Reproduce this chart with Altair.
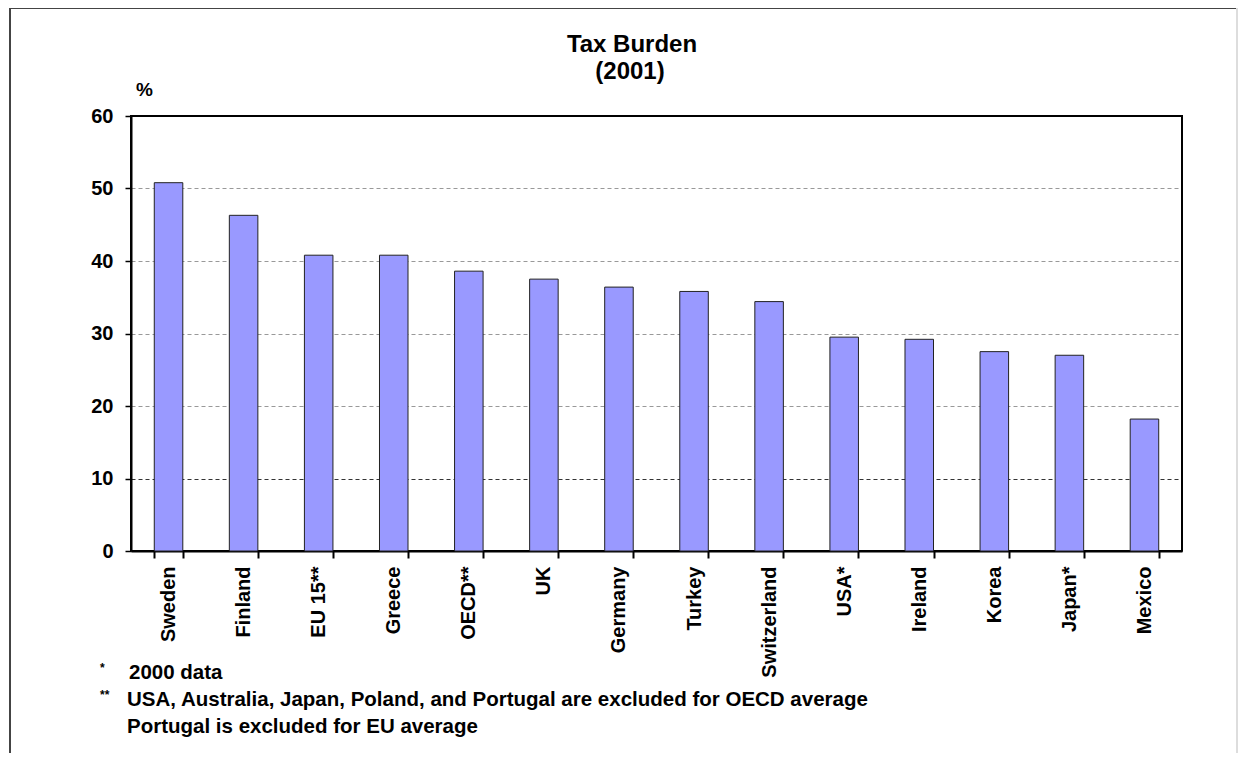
import altair as alt
import pandas as pd

countries = ["Sweden", "Finland", "EU 15**", "Greece", "OECD**", "UK", "Germany",
             "Turkey", "Switzerland", "USA*", "Ireland", "Korea", "Japan*", "Mexico"]
values = [50.8, 46.3, 40.8, 40.8, 38.6, 37.5, 36.4, 35.8, 34.4, 29.5, 29.2, 27.5, 27.0, 18.2]

title_lines = ["Tax Burden", "(2001)"]
y_unit = "%"
note_marks = ["*", "**"]
note_lines = ["2000 data",
              "USA,  Australia, Japan, Poland, and Portugal are excluded for OECD average",
              "Portugal is excluded for EU average"]

df = pd.DataFrame({"country": countries, "value": values})
FONT = "Liberation Sans"
W, H = 1051, 435

bars = alt.Chart(df).mark_bar(color="#9999FF", stroke="#222222", strokeWidth=1).encode(
    x=alt.X("country:N", sort=countries, title=None,
            scale=alt.Scale(paddingInner=0.62, paddingOuter=0.31),
            axis=alt.Axis(labelAngle=-90, labelAlign="right", labelBaseline="middle",
                          labelFont=FONT, labelFontSize=20, labelFontWeight="bold",
                          labelColor="black", labelPadding=8, tickBand="extent",
                          tickSize=7, tickWidth=2, tickColor="black",
                          domainColor="black", domainWidth=2, grid=False)),
    y=alt.Y("value:Q", title=y_unit,
            scale=alt.Scale(domain=[0, 60]),
            axis=alt.Axis(values=[0, 10, 20, 30, 40, 50, 60], labelFont=FONT,
                          labelFontSize=20, labelFontWeight="bold", labelColor="black",
                          labelPadding=12, tickSize=6, tickColor="black", tickWidth=1.5,
                          domainColor="black", domainWidth=2,
                          gridColor={"condition": {"test": "datum.value === 10", "value": "#333333"},
                                     "value": "#999999"},
                          gridDash=[4, 3], gridWidth=1.2,
                          titleAngle=0, titleX=13, titleY=-27, titleAlign="center",
                          titleBaseline="middle", titleFont=FONT, titleFontSize=19,
                          titleFontWeight="bold", titleColor="black")),
)

one = alt.Data(values=[{"k": 0}])

frame_left = alt.Chart(one).mark_rule(color="#444444", strokeWidth=2).encode(
    x=alt.value(-121), y=alt.value(-108), y2=alt.value(637))
frame_top = alt.Chart(one).mark_rule(color="#444444", strokeWidth=2).encode(
    x=alt.value(-121), x2=alt.value(1106), y=alt.value(-108))
frame_right = alt.Chart(one).mark_rule(color="#dddddd", strokeWidth=2).encode(
    x=alt.value(1106), y=alt.value(-108), y2=alt.value(637))
plot_right = alt.Chart(one).mark_rule(color="black", strokeWidth=2).encode(
    x=alt.value(W), y=alt.value(0), y2=alt.value(H))
plot_top = alt.Chart(one).mark_rule(color="black", strokeWidth=2).encode(
    x=alt.value(0), x2=alt.value(W), y=alt.value(0))


def text(t, x, y, size=20, align="left", baseline="middle"):
    return alt.Chart(one).mark_text(text=t, align=align, baseline=baseline,
                                    font=FONT, fontSize=size, fontWeight="bold",
                                    color="black").encode(x=alt.value(x), y=alt.value(y))


titles = [
    text(title_lines[0], 501, -64, 24, "center", "alphabetic"),
    text(title_lines[1], 499, -37, 24, "center", "alphabetic"),
]

notes = [
    text(note_marks[0], -31, 552, 12),
    text(note_lines[0], -2, 557, 20.5),
    text(note_marks[1], -31, 579, 12),
    text(note_lines[1], -4, 584, 20.5),
    text(note_lines[2], -4, 611, 20.5),
]

chart = alt.layer(bars, plot_right, plot_top, frame_left, frame_top, frame_right,
                  *titles, *notes).properties(
    width=W, height=H,
    autosize=alt.AutoSizeParams(type="none"),
    padding={"left": 123, "top": 108, "right": 56, "bottom": 202},
    view=alt.ViewBackground(stroke="black", strokeWidth=2),
).configure_view(stroke="black", strokeWidth=2).configure(background="white")

chart.save("out.html", embed_options={"renderer": "svg", "actions": False})
